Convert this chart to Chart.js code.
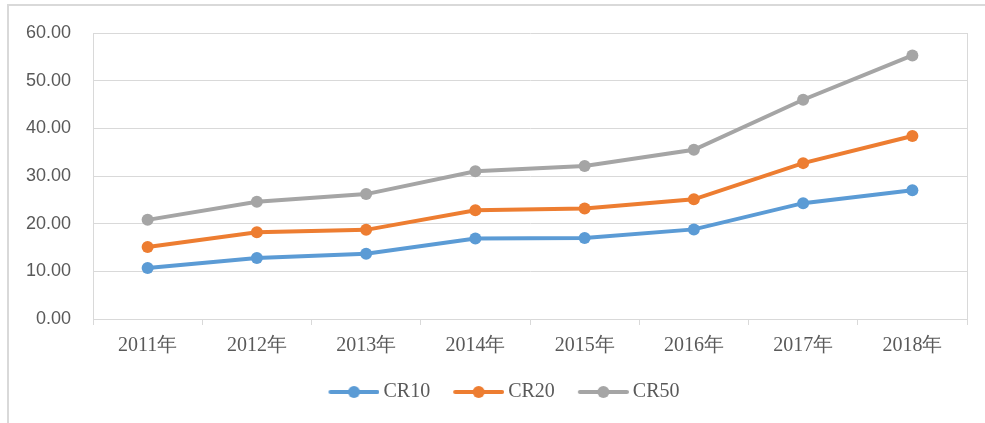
<!DOCTYPE html>
<html>
<head>
<meta charset="utf-8">
<script src="https://cdn.jsdelivr.net/npm/chart.js@4"></script>
<style>
html,body{margin:0;padding:0;background:#fff;overflow:hidden;width:985px;height:423px;}
#frame{position:absolute;left:7px;top:4px;width:1200px;height:1200px;border-left:2px solid #d9d9d9;border-top:2px solid #d9d9d9;}
#wrap{position:absolute;left:0;top:0;width:985px;height:423px;}
</style>
</head>
<body>
<div id="frame"></div>
<div id="wrap"><canvas id="c" width="985" height="423"></canvas></div>
<script>
const categories = ['2011年','2012年','2013年','2014年','2015年','2016年','2017年','2018年'];
const cr10 = [10.7, 12.8, 13.7, 16.9, 17.0, 18.8, 24.3, 27.0];
const cr20 = [15.1, 18.2, 18.7, 22.8, 23.2, 25.1, 32.7, 38.4];
const cr50 = [20.8, 24.6, 26.2, 31.0, 32.1, 35.5, 46.0, 55.3];
const seriesNames = ['CR10','CR20','CR50'];
const colors = ['#5B9BD5','#ED7D31','#A5A5A5'];

const LEGEND_FONT = 20;
const ICON_SLOT = 58; // pointStyleWidth
function legendIcon(color){
  const cv = document.createElement('canvas');
  cv.width = 70; cv.height = 14;
  const g = cv.getContext('2d');
  g.strokeStyle = color; g.lineWidth = 4; g.lineCap = 'round';
  g.beginPath(); g.moveTo(21,7); g.lineTo(68,7); g.stroke();
  g.fillStyle = color; g.beginPath(); g.arc(44.5,7,6,0,Math.PI*2); g.fill();
  return cv;
}

const tweaks = {
  id:'tweaks',
  afterLayout(chart){
    const l = chart.legend;
    if (l){ l.left += 14; l.right += 14; l.top += 3; l.bottom += 3; }
  },
  afterDraw(chart){
    const a = chart.chartArea, ctx = chart.ctx;
    ctx.save();
    ctx.strokeStyle = '#d9d9d9'; ctx.lineWidth = 1;
    ctx.beginPath(); ctx.moveTo(Math.round(a.right)+0.5, a.top); ctx.lineTo(Math.round(a.right)+0.5, a.bottom); ctx.stroke();
    ctx.restore();
  }
};

const data = [cr10, cr20, cr50];
new Chart(document.getElementById('c'), {
  type:'line',
  data:{
    labels:categories,
    datasets: seriesNames.map((n,i)=>({
      label:n, data:data[i],
      borderColor:colors[i], backgroundColor:colors[i],
      borderWidth:4, pointRadius:6, pointHoverRadius:6,
      pointBackgroundColor:colors[i], pointBorderWidth:0,
      tension:0, fill:false
    }))
  },
  options:{
    responsive:false, animation:false,
    layout:{padding:{left:0,right:18,top:33,bottom:14}},
    plugins:{
      tooltip:{enabled:false},
      legend:{
        position:'bottom',
        labels:{
          usePointStyle:true,
          pointStyleWidth:ICON_SLOT,
          padding:10,
          font:{family:'"Liberation Serif", serif', size:LEGEND_FONT},
          color:'#595959',
          generateLabels(chart){
            return chart.data.datasets.map((d,i)=>({
              text:d.label, pointStyle:legendIcon(colors[i]),
              fillStyle:colors[i], strokeStyle:colors[i], lineWidth:0,
              fontColor:'#595959', datasetIndex:i, hidden:false
            }));
          }
        }
      }
    },
    scales:{
      x:{
        offset:true,
        afterFit(s){ s.height = 50; },
        grid:{offset:true, drawOnChartArea:false, drawTicks:true, tickLength:6, color:'#d9d9d9'},
        border:{display:true, color:'#d9d9d9'},
        ticks:{padding:9, color:'#595959', font:{family:'"Liberation Serif", serif', size:20}, maxRotation:0}
      },
      y:{
        min:0, max:60,
        afterFit(s){ s.width = 93; },
        grid:{color:'#d9d9d9', drawTicks:false},
        border:{display:true, color:'#d9d9d9'},
        ticks:{stepSize:10, padding:22, color:'#595959', font:{family:'"Liberation Sans", sans-serif', size:18},
          callback:v=>Number(v).toFixed(2)}
      }
    }
  },
  plugins:[tweaks]
});
</script>
</body>
</html>
